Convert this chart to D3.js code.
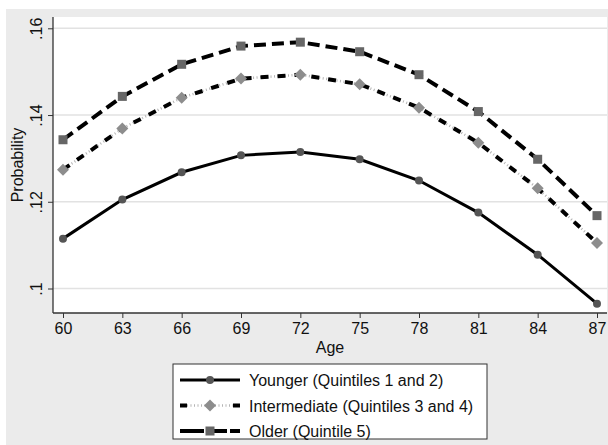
<!DOCTYPE html>
<html>
<head>
<meta charset="utf-8">
<script src="https://cdn.jsdelivr.net/npm/d3@7"></script>
<style>
  body { margin: 0; background: #fff; }
  text { font-family: "Liberation Sans", Arial, sans-serif; fill: #111; }
</style>
</head>
<body>
<div id="chart"></div>
<script>
// data
var ages = [60, 63, 66, 69, 72, 75, 78, 81, 84, 87];
var younger = [.1115, .1205, .1268, .1307, .1315, .1298, .1249, .1175, .1078, .0965];
var intermediate = [.1274, .1369, .1440, .1484, .1493, .1471, .1417, .1336, .1231, .1105];
var older = [.1343, .1443, .1517, .1559, .1568, .1546, .1493, .1408, .1298, .1168];
var yTicks = [.1, .12, .14, .16];
var yTickLabels = ['.1', '.12', '.14', '.16'];
var seriesNames = ['Younger (Quintiles 1 and 2)', 'Intermediate (Quintiles 3 and 4)', 'Older (Quintile 5)'];

var W = 608, H = 445;
var plot = {left: 53, right: 607, top: 17, bottom: 313};
var fs = 16;

var svg = d3.select('#chart').append('svg')
    .attr('width', W).attr('height', H);

// background
svg.append('rect').attr('x', 6).attr('y', 9).attr('width', W - 6).attr('height', H - 9)
    .attr('fill', '#ebebeb');
svg.append('rect').attr('x', plot.left).attr('y', plot.top)
    .attr('width', plot.right - plot.left).attr('height', plot.bottom - plot.top)
    .attr('fill', '#fff');

var x = d3.scaleLinear().domain([60, 87]).range([63, 597]);
var y = d3.scaleLinear().domain([.1, .16]).range([288.5, 28.3]);

// grid
svg.selectAll('.grid').data(yTicks).enter().append('line')
    .attr('x1', plot.left).attr('x2', plot.right)
    .attr('y1', d => y(d)).attr('y2', d => y(d))
    .attr('stroke', '#e2e2e2').attr('stroke-width', 1.5);

// x axis
var gx = svg.append('g').attr('transform', 'translate(0,' + plot.bottom + ')')
    .call(d3.axisBottom(x).tickValues(ages).tickSize(5).tickPadding(5).tickSizeOuter(0));
gx.select('.domain').attr('d', 'M' + plot.left + ',0H' + plot.right).attr('stroke', '#333').attr('stroke-width', 1.3);
gx.selectAll('.tick line').attr('stroke', '#333');
gx.selectAll('.tick text').attr('font-size', fs).attr('fill', '#111')
    .attr('font-family', '"Liberation Sans", Arial, sans-serif');

// y axis
var gy = svg.append('g').attr('transform', 'translate(' + plot.left + ',0)')
    .call(d3.axisLeft(y).tickValues(yTicks).tickFormat((d, i) => yTickLabels[i]).tickSize(5).tickSizeOuter(0));
gy.select('.domain').attr('d', 'M0,' + plot.top + 'V' + plot.bottom).attr('stroke', '#333').attr('stroke-width', 1.3);
gy.selectAll('.tick line').attr('stroke', '#333');
gy.selectAll('.tick text')
    .attr('font-size', fs).attr('fill', '#111')
    .attr('font-family', '"Liberation Sans", Arial, sans-serif')
    .attr('x', null).attr('dy', null)
    .attr('text-anchor', 'middle')
    .attr('transform', 'translate(-11,0) rotate(-90)');

// axis titles
svg.append('text').attr('x', (plot.left + plot.right) / 2).attr('y', 353)
    .attr('text-anchor', 'middle').attr('font-size', fs).text('Age');
svg.append('text').attr('transform', 'translate(23,' + (plot.top + plot.bottom) / 2 + ') rotate(-90)')
    .attr('text-anchor', 'middle').attr('font-size', fs).text('Probability');

// series styles
var series = [
    {name: seriesNames[0], values: younger, dash: null, width: 3, marker: 'circle', fill: '#555', legDash: null},
    {name: seriesNames[1], values: intermediate, dash: '8,9', width: 4, marker: 'diamond', fill: '#8d8d8d', under: true, legDash: '7,46,7'},
    {name: seriesNames[2], values: older, dash: '12,6', width: 4, marker: 'square', fill: '#666', legDash: '24,9,14,3,10'}
];

var line = d3.line().x((d, i) => x(ages[i])).y(d => y(d));

function drawMarker(g, type, cx, cy, fill) {
    if (type === 'circle') {
        g.append('circle').attr('cx', cx).attr('cy', cy).attr('r', 4).attr('fill', fill);
    } else if (type === 'diamond') {
        g.append('path').attr('d', 'M' + cx + ',' + (cy - 6) + 'L' + (cx + 6) + ',' + cy + 'L' + cx + ',' + (cy + 6) + 'L' + (cx - 6) + ',' + cy + 'Z')
            .attr('fill', fill);
    } else {
        g.append('rect').attr('x', cx - 4.5).attr('y', cy - 4.5).attr('width', 9).attr('height', 9).attr('fill', fill);
    }
}

series.forEach(s => {
    var g = svg.append('g');
    if (s.under) {
        g.append('path').attr('d', line(s.values)).attr('fill', 'none')
            .attr('stroke', '#b5b5b5').attr('stroke-width', 2.5).attr('stroke-dasharray', '1,2.5');
    }
    g.append('path').attr('d', line(s.values)).attr('fill', 'none')
        .attr('stroke', '#000').attr('stroke-width', s.width)
        .attr('stroke-dasharray', s.dash);
    s.values.forEach((v, i) => drawMarker(g, s.marker, x(ages[i]), y(v), s.fill));
});

// legend
var lg = svg.append('g');
lg.append('rect').attr('x', 173).attr('y', 364).attr('width', 314).attr('height', 75)
    .attr('fill', '#fff').attr('stroke', '#333').attr('stroke-width', 1);
var rowY = [380, 405.5, 431];
series.forEach((s, i) => {
    var ly = rowY[i];
    if (s.under) {
        lg.append('line').attr('x1', 180).attr('x2', 240).attr('y1', ly).attr('y2', ly)
            .attr('stroke', '#b5b5b5').attr('stroke-width', 2.5).attr('stroke-dasharray', '1,2.5');
    }
    lg.append('line').attr('x1', 180).attr('x2', 240).attr('y1', ly).attr('y2', ly)
        .attr('stroke', '#000').attr('stroke-width', s.width)
        .attr('stroke-dasharray', s.legDash);
    drawMarker(lg, s.marker, 210, ly, s.fill);
    lg.append('text').attr('x', 249).attr('y', ly + 6).attr('font-size', fs).text(s.name);
});
</script>
</body>
</html>
